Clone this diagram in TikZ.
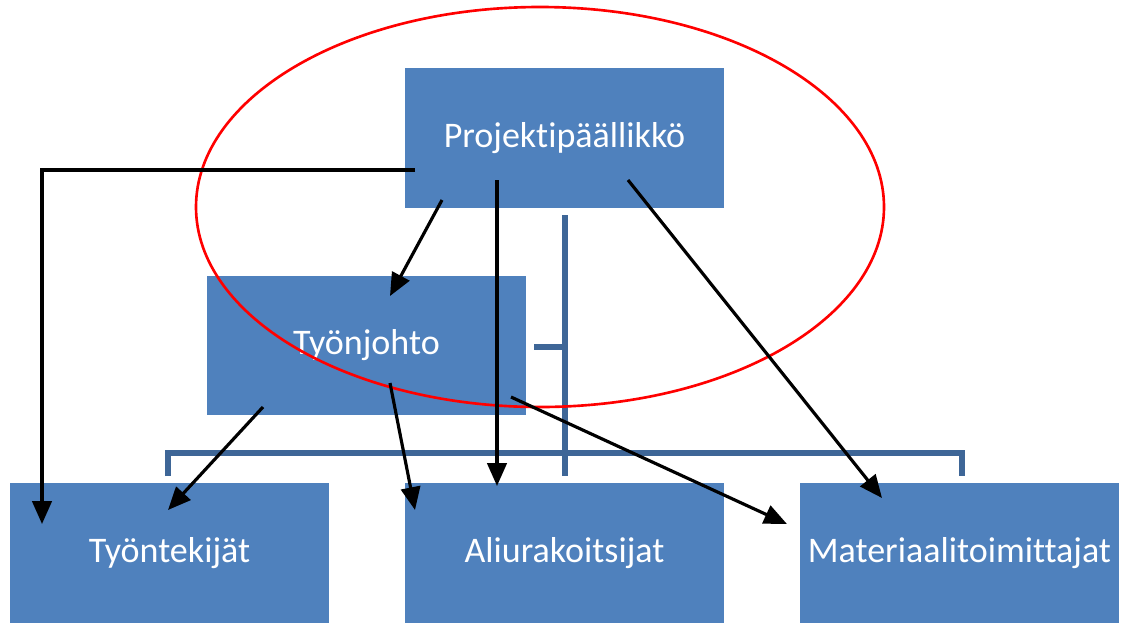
\documentclass[tikz,border=0pt]{standalone}
\usepackage{fontspec}
\setmainfont{Carlito}[Ligatures={NoCommon}]
\usetikzlibrary{arrows.meta}
\definecolor{boxblue}{HTML}{4F81BD}
\definecolor{lineblue}{HTML}{3E6697}
\tikzset{
  unit/.style={rectangle, fill=boxblue, text=white, minimum width=6.38cm,
    minimum height=2.8cm, inner sep=0pt, font=\fontsize{20.5}{24}\selectfont},
  tie/.style={draw=lineblue, line width=3pt},
  link/.style={-{Triangle[length=13pt,width=11pt]}, line width=1.8pt},
}
\begin{document}
\begin{tikzpicture}[x=0.02cm,y=-0.02cm]
	\useasboundingbox (0,0) rectangle (1123,623);
	\node[unit] (pm) at (564.5,138) {Projektipäällikkö};
	\node[unit] (tj) at (366.5,345.5) {Työnjohto};
	\node[unit] (tt) at (169.5,553) {Työntekijät};
	\node[unit] (au) at (564.5,553) {Aliurakoitsijat};
	\node[unit] (mt) at (959.5,553) {Materiaalitoimittajat};
	%
	\coordinate (trunk top) at (565,215);
	\coordinate (trunk bot) at (565,476);
	\coordinate (bar left) at (168,476);
	\coordinate (bar right) at (962,476);
	\coordinate (stub) at (534,347);
	\draw [tie] (trunk top) -- (trunk bot);
	\draw [tie] (bar left) |- (565,453) -| (bar right);
	\draw [tie] (stub) -- (stub -| trunk top);
	%
	\draw [red, line width=1.5pt] (540,207) ellipse [x radius=344, y radius=200];
	%
	\coordinate (pm a) at (415,170);
	\coordinate (pm b) at (442,200);
	\coordinate (pm c) at (497,180);
	\coordinate (pm d) at (628,180);
	\coordinate (tj a) at (263,407);
	\coordinate (tj b) at (390,383);
	\coordinate (tj c) at (511,397);
	\coordinate (tt a) at (42,524);
	\coordinate (tt b) at (168,510);
	\coordinate (tj in) at (390,296);
	\coordinate (au a) at (415,510);
	\coordinate (au b) at (497,486);
	\coordinate (mt a) at (787,524);
	\coordinate (mt b) at (882,498);
	%
	\draw [link] (pm a) -| (tt a);
	\draw [link] (pm b) -- (tj in);
	\draw [link] (pm c) -- (au b);
	\draw [link] (pm d) -- (mt b);
	\draw [link] (tj a) -- (tt b);
	\draw [link] (tj b) -- (au a);
	\draw [link] (tj c) -- (mt a);
\end{tikzpicture}
\end{document}
